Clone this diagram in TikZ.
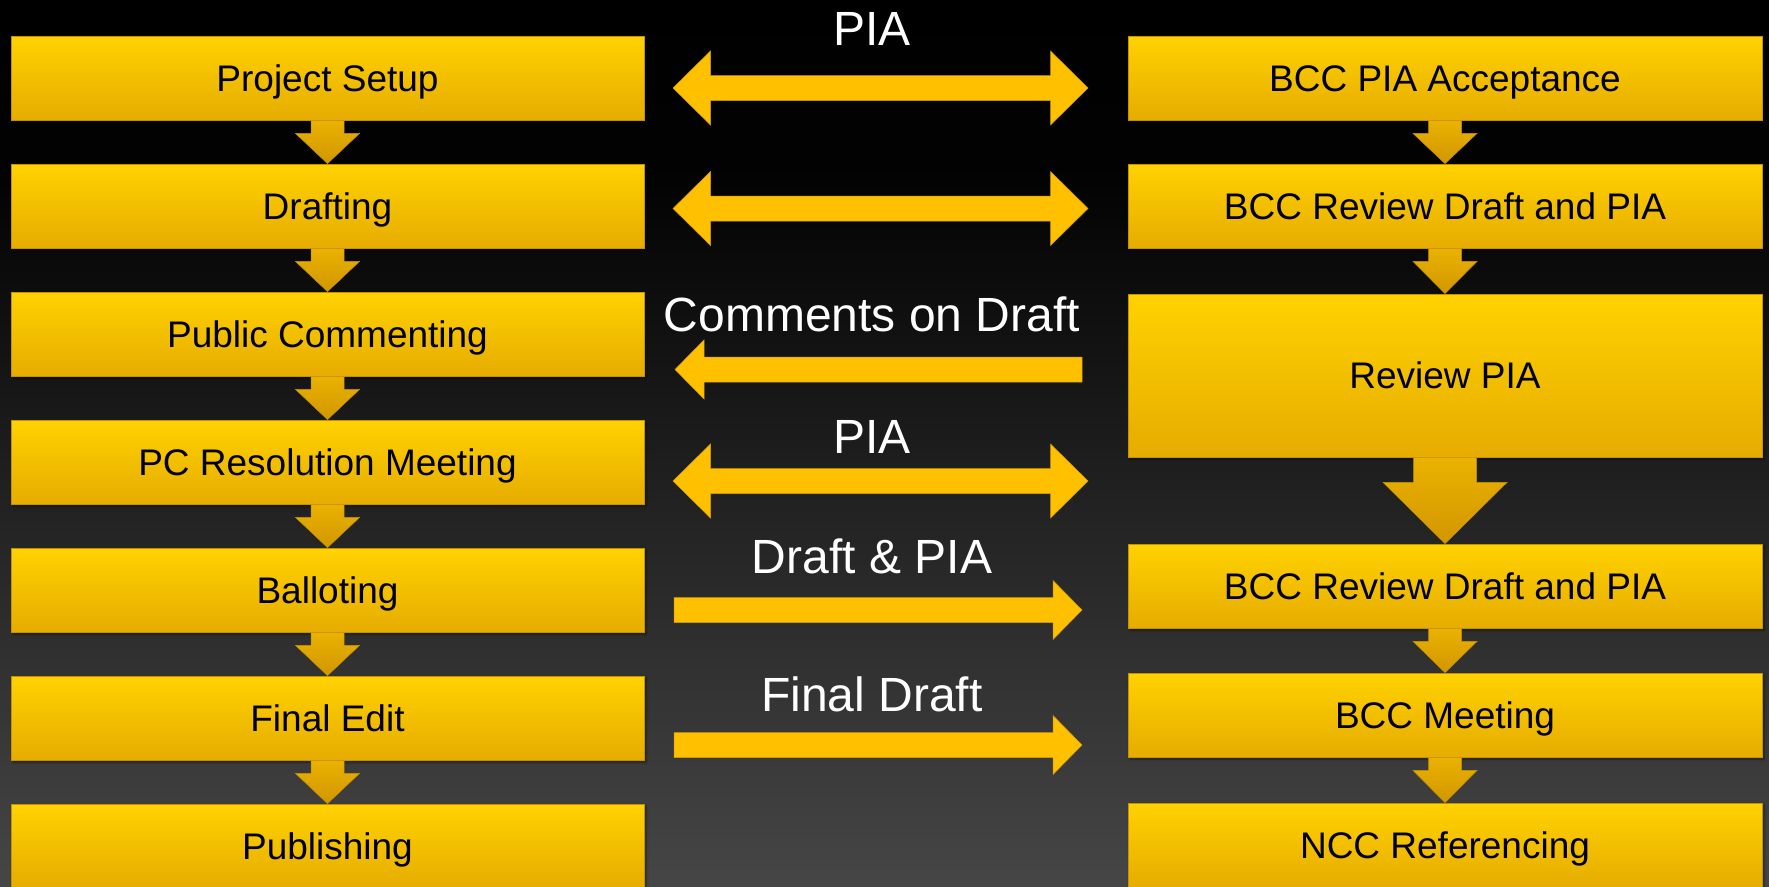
\documentclass[tikz,border=0pt]{standalone}
\usepackage{fontspec}
\setmainfont{Liberation Sans}
\usetikzlibrary{calc,shadows.blur}
\definecolor{boxtop}{RGB}{255,210,0}
\definecolor{boxbot}{RGB}{230,172,0}
\definecolor{boxline}{RGB}{196,146,0}
\definecolor{arrtop}{RGB}{234,178,0}
\definecolor{arrbot}{RGB}{210,150,0}
\definecolor{harrow}{RGB}{255,192,0}
\definecolor{harrowline}{RGB}{214,156,0}
\pgfdeclareverticalshading{bgshade}{100bp}{rgb(0bp)=(0.275,0.275,0.275); rgb(25bp)=(0.275,0.275,0.275); rgb(65bp)=(0.01,0.01,0.01); rgb(75bp)=(0,0,0); rgb(100bp)=(0,0,0)}
\tikzset{
  stepbox/.style={draw=boxline, line width=0.8pt, top color=boxtop, bottom color=boxbot,
    minimum width=633pt, minimum height=84pt, inner sep=0pt, text height=26.5pt, text depth=0pt,
    font=\fontsize{37}{44}\selectfont, text=black,
    blur shadow={shadow xshift=2pt, shadow yshift=-2pt, shadow blur steps=6, shadow opacity=45}},
  rstepbox/.style={stepbox, minimum width=634pt},
  downarrow/.style={top color=arrtop, bottom color=arrbot, draw=boxline, line width=0.5pt},
  sidearrow/.style={fill=harrow, draw=harrowline, line width=0.5pt},
  lbl/.style={font=\fontsize{48}{56}\selectfont, text=white, inner sep=0pt, anchor=base}
}
\newcommand\flowdown[5]{%
  \path[downarrow] ($(#1.south)+(-#3,0)$) -- ($(#1.south)+(#3,0)$) -- ($(#1.south)+(#3,#5)$)
    -- ($(#1.south)+(#4,#5)$) -- (#2.north) -- ($(#1.south)+(-#4,#5)$) -- ($(#1.south)+(-#3,#5)$) -- cycle;}
\newcommand\dblharrow[5]{%
  \path[sidearrow] (#1) -- ($(#1)+(#3,-#4)$) -- ($(#1)+(#3,-#5)$) -- ($(#2)+(-#3,-#5)$)
    -- ($(#2)+(-#3,-#4)$) -- (#2) -- ($(#2)+(-#3,#4)$) -- ($(#2)+(-#3,#5)$)
    -- ($(#1)+(#3,#5)$) -- ($(#1)+(#3,#4)$) -- cycle;}
\newcommand\rharrow[5]{%
  \path[sidearrow] ($(#1)+(0,-#5)$) -- ($(#2)+(-#3,-#5)$) -- ($(#2)+(-#3,-#4)$) -- (#2)
    -- ($(#2)+(-#3,#4)$) -- ($(#2)+(-#3,#5)$) -- ($(#1)+(0,#5)$) -- cycle;}
\newcommand\lharrow[5]{%
  \path[sidearrow] ($(#1)+(0,-#5)$) -- ($(#2)+(#3,-#5)$) -- ($(#2)+(#3,-#4)$) -- (#2)
    -- ($(#2)+(#3,#4)$) -- ($(#2)+(#3,#5)$) -- ($(#1)+(0,#5)$) -- cycle;}
\begin{document}
\begin{tikzpicture}[x=1pt,y=-1pt]
\clip (0,0) rectangle (1769,886);
\shade[shading=bgshade] (0,0) rectangle (1769,886);

% left column
\node[stepbox] (l1) at (327.5,78) {Project Setup};
\node[stepbox] (l2) at (327.5,206) {Drafting};
\node[stepbox] (l3) at (327.5,334) {Public Commenting};
\node[stepbox] (l4) at (327.5,462) {PC Resolution Meeting};
\node[stepbox] (l5) at (327.5,590) {Balloting};
\node[stepbox] (l6) at (327.5,718) {Final Edit};
\node[stepbox] (l7) at (327.5,846) {Publishing};

% right column
\node[rstepbox] (r1) at (1445,78) {BCC PIA Acceptance};
\node[rstepbox] (r2) at (1445,206) {BCC Review Draft and PIA};
\node[rstepbox, minimum height=163pt] (r3) at (1445,375.5) {Review PIA};
\node[rstepbox] (r4) at (1445,586) {BCC Review Draft and PIA};
\node[rstepbox] (r5) at (1445,715) {BCC Meeting};
\node[rstepbox] (r6) at (1445,845) {NCC Referencing};

% vertical flow arrows
\flowdown{l1}{l2}{16.5}{32}{13}
\flowdown{l2}{l3}{16.5}{32}{13}
\flowdown{l3}{l4}{16.5}{32}{13}
\flowdown{l4}{l5}{16.5}{32}{13}
\flowdown{l5}{l6}{16.5}{32}{13}
\flowdown{l6}{l7}{16.5}{32}{13}
\flowdown{r1}{r2}{16.5}{32}{13}
\flowdown{r2}{r3}{16.5}{32}{13}
\flowdown{r3}{r4}{31.5}{62}{25}
\flowdown{r4}{r5}{16.5}{32}{13}
\flowdown{r5}{r6}{16.5}{32}{13}

% horizontal arrows
\coordinate (h1l) at (673,88);   \coordinate (h1r) at (1088,88);
\coordinate (h2l) at (673,208.5);\coordinate (h2r) at (1088,208.5);
\coordinate (h3t) at (1082,369.5);\coordinate (h3h) at (675,369.5);
\coordinate (h4l) at (673,481);  \coordinate (h4r) at (1088,481);
\coordinate (h5t) at (674,610);  \coordinate (h5h) at (1082,610);
\coordinate (h6t) at (674,745);  \coordinate (h6h) at (1082,745);
\dblharrow{h1l}{h1r}{37.5}{37}{12.5}
\dblharrow{h2l}{h2r}{37.5}{37}{12.5}
\lharrow{h3t}{h3h}{29}{29.5}{12.5}
\dblharrow{h4l}{h4r}{37.5}{37}{12.5}
\rharrow{h5t}{h5h}{29}{29.5}{12.5}
\rharrow{h6t}{h6h}{29}{29.5}{12.5}

% labels
\node[lbl] (t1) at (872,45) {PIA};
\node[lbl] (t3) at (872,331) {Comments on Draft};
\node[lbl] (t4) at (872,453) {PIA};
\node[lbl] (t5) at (872,573) {Draft \& PIA};
\node[lbl] (t6) at (872,711) {Final Draft};
\end{tikzpicture}
\end{document}
